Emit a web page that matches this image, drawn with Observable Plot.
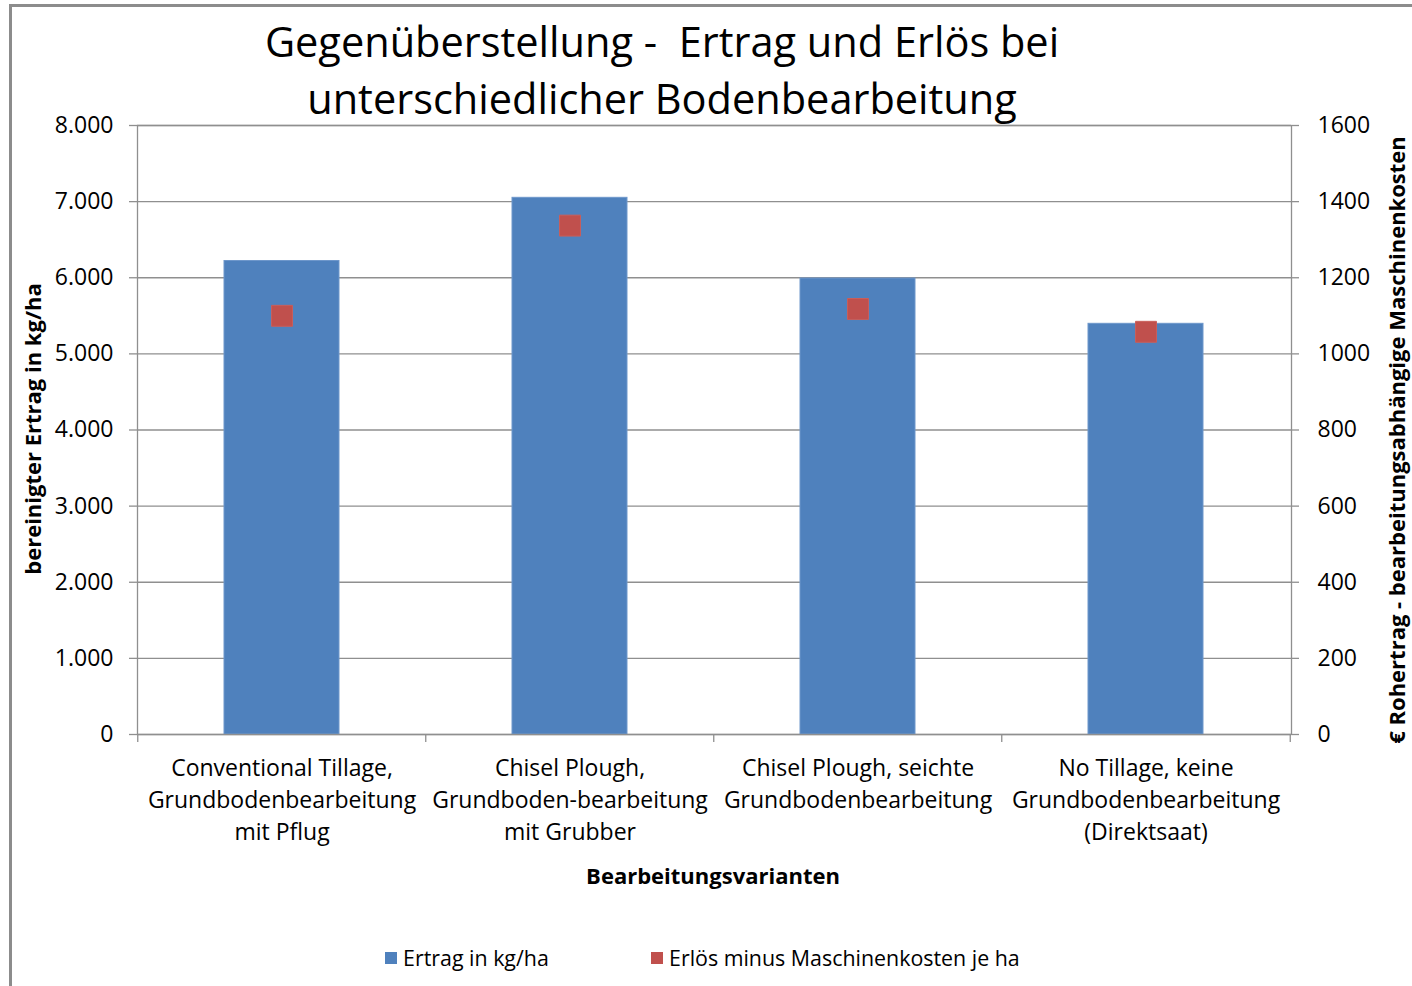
<!DOCTYPE html>
<html>
<head>
<meta charset="utf-8">
<script src="https://cdn.jsdelivr.net/npm/d3@7"></script>
<script src="https://cdn.jsdelivr.net/npm/@observablehq/plot@0.6"></script>
<style>
  html, body { margin: 0; padding: 0; background: #fff; }
  body { width: 1412px; height: 986px; overflow: hidden; position: relative; font-family: "Open Sans", sans-serif; color: #000; }
  #frame { position: absolute; left: 9px; top: 4px; width: 1420px; height: 1000px; border-left: 3px solid #8c8c8c; border-top: 3px solid #8c8c8c; box-sizing: border-box; }
  #title { position: absolute; left: 0; top: 13px; width: 1324px; text-align: center; font-size: 41.5px; line-height: 57px; white-space: pre; }
  #chart { position: absolute; left: 0; top: 0; }
  .ytitle { position: absolute; font-weight: bold; font-size: 22px; white-space: nowrap; transform: translate(-50%, -50%) rotate(-90deg); }
  #xtitle { position: absolute; left: 713px; top: 860px; transform: translateX(-50%); font-weight: bold; font-size: 22px; white-space: nowrap; }
  .leg { position: absolute; top: 943px; font-size: 21.4px; white-space: nowrap; display: flex; align-items: center; }
  .sw { width: 12px; height: 12px; display: inline-block; margin-right: 6px; }
</style>
</head>
<body>
<div id="frame"></div>
<div id="title"></div>
<div id="chart"></div>
<div class="ytitle" id="ytitleL" style="left:32px; top:429px;"></div>
<div class="ytitle" id="ytitleR" style="left:1396px; top:440px;"></div>
<div id="xtitle"></div>
<div id="legend"></div>
<script>
// ---- data ----
const categories = [
  "Conventional Tillage, Grundbodenbearbeitung mit Pflug",
  "Chisel Plough, Grundboden-bearbeitung mit Grubber",
  "Chisel Plough, seichte Grundbodenbearbeitung",
  "No Tillage, keine Grundbodenbearbeitung (Direktsaat)"
];
const tickLabels = [
  "Conventional Tillage,\nGrundbodenbearbeitung\nmit Pflug",
  "Chisel Plough,\nGrundboden-bearbeitung\nmit Grubber",
  "Chisel Plough, seichte\nGrundbodenbearbeitung",
  "No Tillage, keine\nGrundbodenbearbeitung\n(Direktsaat)"
];
const ertrag = [6220, 7050, 5990, 5395];        // kg/ha (left axis)
const erloes = [1100, 1337, 1118, 1058];        // € (right axis)
const leftTicks = [0, 1000, 2000, 3000, 4000, 5000, 6000, 7000, 8000];
const rightTicks = [0, 200, 400, 600, 800, 1000, 1200, 1400, 1600];
const titleText = "Gegenüberstellung -  Ertrag und Erlös bei\nunterschiedlicher Bodenbearbeitung";
const yTitleLeft = "bereinigter Ertrag in kg/ha";
const yTitleRight = "€ Rohertrag - bearbeitungsabhängige Maschinenkosten";
const xTitle = "Bearbeitungsvarianten";
const seriesNames = ["Ertrag in kg/ha", "Erlös minus Maschinenkosten je ha"];

// ---- build ----
const colors = ["#4F81BD", "#C0504D"];
const ratio = 8000 / 1600; // right axis mapped onto left scale
const rows = categories.map((c, i) => ({cat: c, ertrag: ertrag[i], erloes: erloes[i]}));

const W = 1412, H = 900;
const mL = 137, mR = 121, mT = 125, mB = 166;
const step = (W - mL - mR) / categories.length;
const gridColor = "#8f8f8f";
const fmtDe = d => d3.format(",")(d).replace(/,/g, ".");

const chart = Plot.plot({
  width: W, height: H,
  marginLeft: mL, marginRight: mR, marginTop: mT, marginBottom: mB,
  style: {fontFamily: "Open Sans, sans-serif", fontSize: "23px", color: "#000", background: "transparent"},
  x: {domain: categories, paddingInner: 0.6, paddingOuter: 0.3, label: null},
  y: {domain: [0, 8000], label: null},
  marks: [
    Plot.gridY(leftTicks, {stroke: gridColor, strokeOpacity: 1, strokeWidth: 1.3}),
    Plot.barY(rows, {x: "cat", y: "ertrag", fill: colors[0], stroke: "#6e97cb", strokeWidth: 1}),
    Plot.dot(rows, {x: "cat", y: d => d.erloes * ratio, symbol: "square", r: 11.8, fill: colors[1], stroke: "#c95e5a", strokeWidth: 1}),
    Plot.frame({stroke: gridColor, strokeWidth: 1.3}),
    Plot.axisY({anchor: "left", ticks: leftTicks, tickFormat: fmtDe, tickSize: 8, tickPadding: 16, stroke: gridColor, strokeWidth: 1.3, fontSize: 23, label: null}),
    Plot.axisY({anchor: "right", ticks: rightTicks.map(v => v * ratio), tickFormat: d => String(d / ratio), tickSize: 7, tickPadding: 19, stroke: gridColor, strokeWidth: 1.3, fontSize: 23, label: null}),
    Plot.axisX({anchor: "bottom", ticks: categories, tickFormat: () => "", tickSize: 8, dx: -step / 2, stroke: gridColor, strokeWidth: 1.3, label: null}),
    Plot.axisX({anchor: "bottom", ticks: [categories[categories.length - 1]], tickFormat: () => "", tickSize: 8, dx: step / 2, stroke: gridColor, strokeWidth: 1.3, label: null}),
    Plot.axisX({anchor: "bottom", ticks: categories, tickFormat: d => tickLabels[categories.indexOf(d)], tickSize: 0, tickPadding: 19, lineHeight: 1.39, fontSize: 23, label: null})
  ]
});
document.getElementById("chart").appendChild(chart);

document.getElementById("title").textContent = titleText;
document.getElementById("ytitleL").textContent = yTitleLeft;
document.getElementById("ytitleR").textContent = yTitleRight;
document.getElementById("xtitle").textContent = xTitle;

const legendLefts = [385, 651];
const leg = document.getElementById("legend");
seriesNames.forEach((name, i) => {
  const item = document.createElement("div");
  item.className = "leg";
  item.style.left = legendLefts[i] + "px";
  const sw = document.createElement("span");
  sw.className = "sw";
  sw.style.background = colors[i];
  const t = document.createElement("span");
  t.textContent = name;
  item.appendChild(sw);
  item.appendChild(t);
  leg.appendChild(item);
});
</script>
</body>
</html>
